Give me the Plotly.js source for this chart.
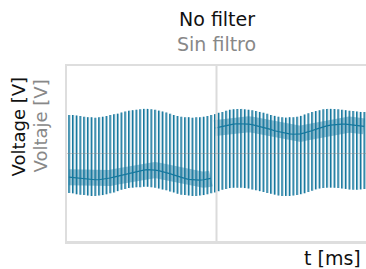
<!DOCTYPE html>
<html><head><meta charset="utf-8">
<script src="https://cdn.plot.ly/plotly-3.0.1.min.js"></script>
<style>html,body{margin:0;padding:0;background:#fff}#chart{width:366px;height:269px}</style>
</head><body><div id="chart"></div>
<script>
// time of each switching event (ms)
const timeMs = [0.25,0.75,1.25,1.75,2.25,2.75,3.25,3.75,4.25,4.75,5.25,5.75,6.25,6.75,7.25,7.75,8.25,8.75,9.25,9.75,
10.25,10.75,11.25,11.75,12.25,12.75,13.25,13.75,14.25,14.75,15.25,15.75,16.25,16.75,17.25,17.75,18.25,18.75,19.25,19.75,
20.25,20.75,21.25,21.75,22.25,22.75,23.25,23.75,24.25,24.75,25.25,25.75,26.25,26.75,27.25,27.75,28.25,28.75,29.25,29.75,
30.25,30.75,31.25,31.75,32.25,32.75,33.25,33.75,34.25,34.75,35.25,35.75,36.25,36.75,37.25,37.75,38.25,38.75,39.25,39.75];
// spike maxima (V)
const spikeTop = [0.88,0.88,0.87,0.86,0.84,0.83,0.83,0.82,0.83,0.84,0.86,0.88,0.90,0.91,0.94,0.96,0.98,0.99,1.00,1.01,
1.02,1.02,1.01,1.00,0.98,0.96,0.94,0.91,0.88,0.86,0.84,0.83,0.83,0.82,0.83,0.83,0.84,0.86,0.88,0.90,
0.93,0.95,0.98,1.00,1.01,1.02,1.02,1.01,1.00,0.99,0.97,0.95,0.93,0.91,0.88,0.86,0.84,0.83,0.82,0.83,
0.83,0.84,0.86,0.89,0.92,0.95,0.97,0.99,1.01,1.02,1.02,1.02,1.01,1.00,0.99,0.98,0.97,0.96,0.95,0.95];
// spike minima (V)
const spikeBottom = [-0.90,-0.91,-0.93,-0.94,-0.95,-0.96,-0.97,-0.97,-0.96,-0.95,-0.93,-0.91,-0.89,-0.86,-0.83,-0.81,-0.79,-0.78,-0.77,-0.77,
-0.76,-0.76,-0.77,-0.78,-0.80,-0.82,-0.84,-0.87,-0.89,-0.92,-0.94,-0.95,-0.96,-0.97,-0.97,-0.96,-0.95,-0.93,-0.91,-0.89,
-0.86,-0.83,-0.81,-0.79,-0.78,-0.78,-0.78,-0.79,-0.80,-0.82,-0.84,-0.86,-0.88,-0.90,-0.92,-0.94,-0.96,-0.97,-0.97,-0.97,
-0.96,-0.95,-0.93,-0.91,-0.88,-0.85,-0.82,-0.80,-0.79,-0.78,-0.78,-0.78,-0.79,-0.80,-0.81,-0.82,-0.83,-0.83,-0.82,-0.81];
// level between switching events (V)
const baseLevel = [-0.54,-0.55,-0.56,-0.57,-0.58,-0.59,-0.60,-0.60,-0.60,-0.59,-0.58,-0.56,-0.54,-0.52,-0.49,-0.47,-0.45,-0.43,-0.41,-0.39,
-0.38,-0.37,-0.37,-0.38,-0.39,-0.41,-0.43,-0.46,-0.49,-0.52,-0.55,-0.57,-0.59,-0.60,-0.61,-0.61,-0.60,-0.59,-0.57,0.58,
0.60,0.62,0.64,0.66,0.67,0.68,0.68,0.68,0.67,0.66,0.64,0.62,0.60,0.57,0.55,0.52,0.50,0.48,0.46,0.45,
0.44,0.44,0.45,0.47,0.49,0.52,0.55,0.58,0.61,0.63,0.65,0.66,0.67,0.67,0.67,0.66,0.65,0.64,0.63,0.62];

const teal = '#15789e';
const sx = [], sy = [], lx = [], ly = [], bx = [], by = [];
timeMs.forEach((t, i) => {
  // dark full-swing stroke, lighter companion stroke beside it
  sx.push(t, t, null); sy.push(spikeTop[i], spikeBottom[i], null);
  lx.push(t + 0.12, t + 0.12, null); ly.push(spikeTop[i], spikeBottom[i], null);
  // break the level line where it jumps between low and high state
  if (i > 0 && Math.abs(baseLevel[i] - baseLevel[i - 1]) > 0.5) { bx.push(null); by.push(null); }
  bx.push(t); by.push(baseLevel[i]);
});

const traces = [
  {x: bx, y: by, mode: 'lines', line: {color: 'rgba(31,122,160,0.45)', width: 16}, connectgaps: false, hoverinfo: 'skip'},
  {x: lx, y: ly, mode: 'lines', line: {color: 'rgba(31,122,160,0.5)', width: 1.4}, connectgaps: false, hoverinfo: 'skip'},
  {x: sx, y: sy, mode: 'lines', line: {color: teal, width: 1.3}, connectgaps: false, hoverinfo: 'skip'},
  {x: bx, y: by, mode: 'lines', line: {color: teal, width: 1.2}, connectgaps: false, hoverinfo: 'skip'}
];

const ax = {showticklabels: false, ticks: '', showgrid: false, zeroline: false,
  showline: true, mirror: true, linecolor: '#dedede', linewidth: 2.5};

const F = 'DejaVu Sans, sans-serif';
const layout = {
  width: 366, height: 269,
  margin: {l: 67, r: 0, t: 66, b: 28},
  paper_bgcolor: '#fff', plot_bgcolor: '#fff',
  showlegend: false,
  font: {family: F},
  xaxis: Object.assign({range: [0, 40]}, ax),
  yaxis: Object.assign({range: [-2, 2]}, ax),
  shapes: [
    {type: 'line', xref: 'x', yref: 'paper', x0: 20, x1: 20, y0: 0, y1: 1, layer: 'above', line: {color: 'rgba(215,215,215,0.9)', width: 2}},
    {type: 'line', xref: 'paper', yref: 'y', x0: 0, x1: 1, y0: 0, y1: 0, layer: 'above', line: {color: 'rgba(140,140,140,0.45)', width: 1}}
  ],
  annotations: [
    {text: 'No filter', xref: 'paper', yref: 'paper', x: 0.5, y: 1, xanchor: 'center', yanchor: 'middle', yshift: 47, showarrow: false, font: {size: 19, color: '#111', family: F}},
    {text: 'Sin filtro', xref: 'paper', yref: 'paper', x: 0.5, y: 1, xanchor: 'center', yanchor: 'middle', yshift: 22, showarrow: false, font: {size: 19, color: '#888', family: F}},
    {text: 't [ms]', xref: 'paper', yref: 'paper', x: 1, y: 0, xanchor: 'right', yanchor: 'middle', xshift: -3, yshift: -17, showarrow: false, font: {size: 19, color: '#111', family: F}},
    {text: 'Voltage [V]', xref: 'paper', yref: 'paper', x: 0, y: 0.5, xanchor: 'center', yanchor: 'middle', xshift: -49, yshift: 27, textangle: -90, showarrow: false, font: {size: 18, color: '#111', family: F}},
    {text: 'Voltaje [V]', xref: 'paper', yref: 'paper', x: 0, y: 0.5, xanchor: 'center', yanchor: 'middle', xshift: -27, yshift: 27, textangle: -90, showarrow: false, font: {size: 18, color: '#888', family: F}}
  ]
};
Plotly.newPlot('chart', traces, layout, {staticPlot: true, displayModeBar: false});
</script>
</body></html>
